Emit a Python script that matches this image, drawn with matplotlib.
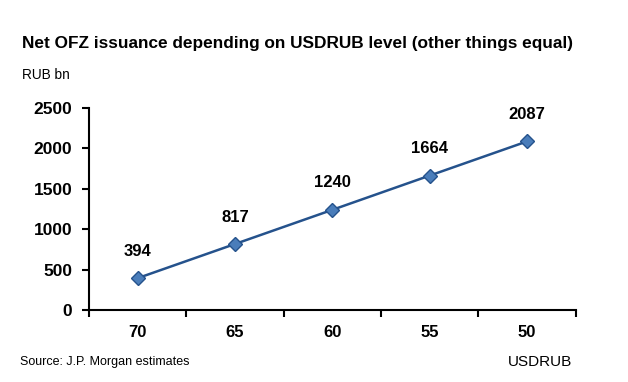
import matplotlib.pyplot as plt

plt.rcParams['font.family'] = ['Liberation Sans', 'DejaVu Sans']

usdrub = ['70', '65', '60', '55', '50']
issuance = [394, 817, 1240, 1664, 2087]
yticks = [0, 500, 1000, 1500, 2000, 2500]

fig = plt.figure(figsize=(6.28, 3.82), dpi=100)
ax = fig.add_axes([0.1417, 0.1885, 0.7753, 0.5288])

x = list(range(len(usdrub)))
ax.plot(x, issuance, color='#25528C', lw=1.8, marker='D', markersize=7,
        markerfacecolor='#4A7DBA', markeredgecolor='#25528C', markeredgewidth=1.0)

for xi, v in zip(x, issuance):
    ax.annotate(str(v), (xi, v), xytext=(0, 14), textcoords='offset points',
                ha='center', va='bottom', fontsize=12, fontweight='bold')

ax.set_xlim(-0.5, len(usdrub) - 0.5)
ax.set_ylim(0, 2500)
ax.set_yticks(yticks)
ax.set_yticklabels([str(t) for t in yticks], fontsize=12.5, fontweight='bold')

# category labels centered, ticks at boundaries
ax.set_xticks([i - 0.5 for i in range(len(usdrub) + 1)])
ax.set_xticklabels([])
ax.set_xticks(x, minor=True)
ax.set_xticklabels(usdrub, minor=True, fontsize=12, fontweight='bold')
ax.tick_params(axis='x', which='minor', length=0, pad=11)
ax.tick_params(axis='x', which='major', length=5, width=1.5, direction='out')
ax.tick_params(axis='y', length=5, width=1.5, direction='out', pad=7)

for s in ['top', 'right']:
    ax.spines[s].set_visible(False)
for s in ['left', 'bottom']:
    ax.spines[s].set_linewidth(1.5)

fig.text(0.035, 0.887, 'Net OFZ issuance depending on USDRUB level (other things equal)',
         fontsize=12.4, fontweight='bold', va='center')
fig.text(0.035, 0.803, 'RUB bn', fontsize=9.8, va='center')
fig.text(0.032, 0.052, 'Source: J.P. Morgan estimates', fontsize=9, va='center')
fig.text(0.86, 0.052, 'USDRUB', fontsize=11, ha='center', va='center')

plt.savefig('out.png', dpi=100)
